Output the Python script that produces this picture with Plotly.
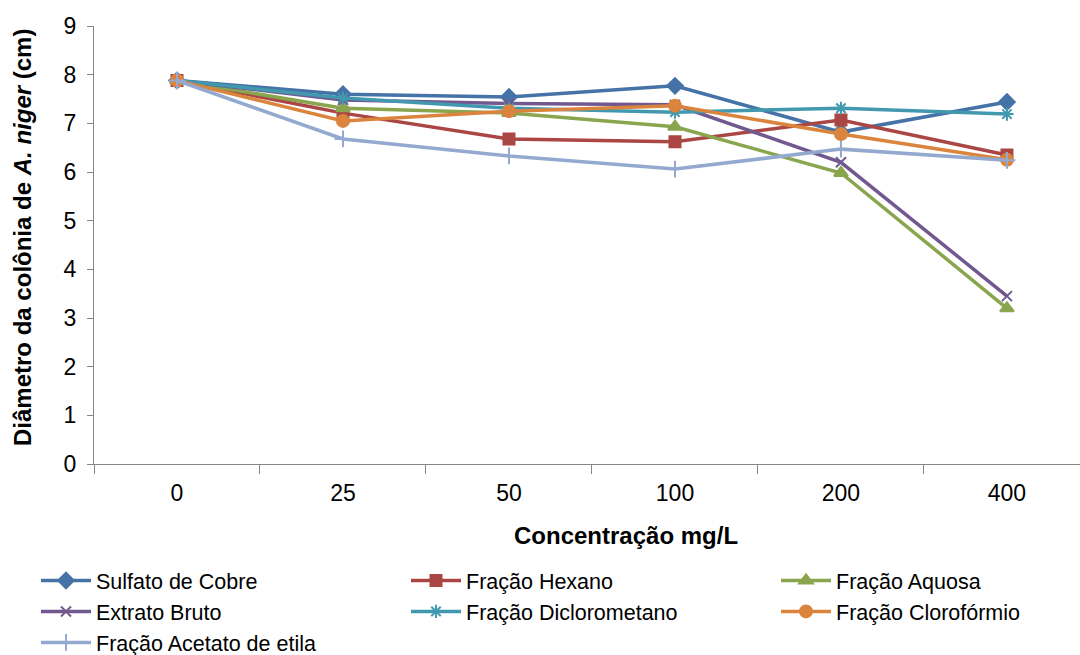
import plotly.graph_objects as go

categories = ["0", "25", "50", "100", "200", "400"]

sulfato_cobre = [7.88, 7.60, 7.54, 7.77, 6.82, 7.44]
fracao_hexano = [7.88, 7.21, 6.68, 6.62, 7.07, 6.35]
fracao_aquosa = [7.88, 7.31, 7.21, 6.93, 5.98, 3.20]
extrato_bruto = [7.88, 7.48, 7.41, 7.38, 6.20, 3.45]
fracao_dicloro = [7.88, 7.52, 7.31, 7.23, 7.31, 7.19]
fracao_cloroformio = [7.88, 7.05, 7.25, 7.36, 6.78, 6.25]
fracao_acetato = [7.88, 6.68, 6.33, 6.06, 6.47, 6.24]

# (name, values, color, symbol, size, legend column)
series = [
    ("Sulfato de Cobre", sulfato_cobre, "#4572A7", "diamond", 12, "legend"),
    ("Fração Hexano", fracao_hexano, "#AA4643", "square", 11, "legend2"),
    ("Fração Aquosa", fracao_aquosa, "#89A54E", "triangle-up", 12, "legend3"),
    ("Extrato Bruto", extrato_bruto, "#71588F", "x-thin", 10, "legend"),
    ("Fração Diclorometano", fracao_dicloro, "#4198AF", "asterisk", 11, "legend2"),
    ("Fração Clorofórmio", fracao_cloroformio, "#DB843D", "circle", 12, "legend3"),
    ("Fração Acetato de etila", fracao_acetato, "#93A9CF", "cross-thin", 12, "legend"),
]

fig = go.Figure()
for name, vals, color, sym, size, leg in series:
    fig.add_trace(go.Scatter(
        x=categories, y=vals, name=name, mode="lines+markers",
        line=dict(color=color, width=3.5),
        marker=dict(symbol=sym, size=size, color=color,
                    line=dict(color=color, width=2)),
        legend=leg,
    ))

axis_color = "#868686"
leg_common = dict(
    orientation="v", xref="container", yref="container",
    y=1 - 560 / 655, xanchor="left", yanchor="top",
    font=dict(size=21.5), tracegroupgap=0, itemwidth=50,
    bgcolor="rgba(0,0,0,0)",
)
fig.update_layout(
    width=1080, height=655,
    margin=dict(l=94, r=0, t=26, b=191, autoexpand=False),
    plot_bgcolor="white", paper_bgcolor="white",
    font=dict(family="Liberation Sans, Arial", color="black", size=22),
    xaxis=dict(
        type="category", range=[-0.5, 5.44], automargin=False,
        showline=True, linecolor=axis_color, linewidth=1,
        ticks="outside", tickson="boundaries", ticklen=9, tickcolor=axis_color,
        showgrid=False, tickfont=dict(size=23), zeroline=False,
        ticklabelstandoff=8,
    ),
    yaxis=dict(
        range=[0, 9], dtick=1, automargin=False,
        showline=True, linecolor=axis_color, linewidth=1,
        ticks="outside", ticklen=6, tickcolor=axis_color,
        showgrid=False, tickfont=dict(size=23), zeroline=False,
        ticklabelstandoff=6,
    ),
    legend=dict(x=36 / 1080, **leg_common),
    legend2=dict(x=406 / 1080, **leg_common),
    legend3=dict(x=776 / 1080, **leg_common),
    annotations=[
        dict(text="<b>Concentração mg/L</b>", xref="paper", yref="paper",
             x=(626 - 94) / 986, y=-(535 - 464) / 438, showarrow=False,
             font=dict(size=24), xanchor="center", yanchor="middle"),
        dict(text="<b>Diâmetro da colônia de <i>A. niger</i> (cm)</b>",
             xref="paper", yref="paper", x=-(94 - 22) / 986,
             y=(464 - 238) / 438,
             textangle=-90, showarrow=False, font=dict(size=24),
             xanchor="center", yanchor="middle"),
    ],
)

fig.write_html("out.html")
